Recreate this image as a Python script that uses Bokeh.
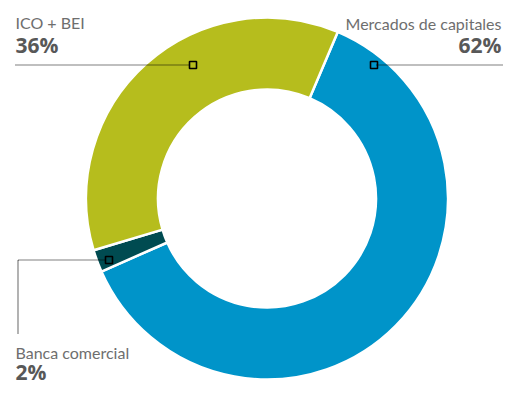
import math
from bokeh.plotting import figure
from bokeh.models import ColumnDataSource, Range1d
from bokeh.core.properties import value
from bokeh.embed import file_html
from bokeh.resources import INLINE

# ---- data ----
categories = ["Mercados de capitales", "Banca comercial", "ICO + BEI"]
shares = [62, 2, 36]
pct_labels = ["62%", "2%", "36%"]
colors = ["#0094C9", "#004B51", "#B6BD1D"]

W, H = 503, 385
p = figure(width=W, height=H, output_backend="svg", toolbar_location=None,
           x_range=Range1d(0, W), y_range=Range1d(0, H),
           min_border=0, outline_line_color=None)
p.axis.visible = False
p.grid.visible = False
p.background_fill_color = "white"
p.border_fill_color = "white"

# donut geometry (layout)
cx, cy = 266.5, 187.0
r_out, r_in = 181, 109
start_deg = 67.0  # math angle where first slice starts, going clockwise

starts, ends = [], []
acc = 0.0
for s in shares:
    a0 = start_deg - acc * 3.6
    acc += s
    a1 = start_deg - acc * 3.6
    starts.append(math.radians(a0))
    ends.append(math.radians(a1))

src = ColumnDataSource(dict(x=[cx] * 3, y=[cy] * 3, start=starts, end=ends,
                            color=colors, cat=categories))
p.annular_wedge(x="x", y="y", inner_radius=r_in, outer_radius=r_out,
                start_angle="start", end_angle="end", direction="clock",
                fill_color="color", line_color="white", line_width=2.5,
                source=src)

# leader lines
dot = dict(line_color="black", line_width=1.2, line_dash="1 1")
p.line([15, 189], [320.5, 320.5], **dot)
p.line([376, 503], [320.5, 320.5], **dot)
p.line([105, 17.5, 17.5], [125.5, 125.5, 52], **dot)
p.scatter([192.5, 373.5, 108.5], [320.5, 320.5, 125.5], marker="square", size=7,
          fill_color=None, line_color="black", line_width=1.6)

name_font = value("Lato")
pct_font = value("Open Sans")
name_col = "#6E6E6E"
pct_col = "#585858"
name_sz = "16px"
pct_sz = "21px"

# names
p.text([15], [363], text=[categories[2]], text_font=name_font, text_font_size=name_sz,
       text_color=name_col, text_align="left", text_baseline="alphabetic")
p.text([501], [362], text=[categories[0]], text_font=name_font, text_font_size=name_sz,
       text_color=name_col, text_align="right", text_baseline="alphabetic")
p.text([15], [33], text=[categories[1]], text_font=name_font, text_font_size=name_sz,
       text_color=name_col, text_align="left", text_baseline="alphabetic")
# percentages
p.text([15], [341], text=[pct_labels[2]], text_font=pct_font, text_font_size=pct_sz,
       text_font_style="bold", text_color=pct_col, text_align="left", text_baseline="alphabetic")
p.text([501], [341], text=[pct_labels[0]], text_font=pct_font, text_font_size=pct_sz,
       text_font_style="bold", text_color=pct_col, text_align="right", text_baseline="alphabetic")
p.text([15], [14], text=[pct_labels[1]], text_font=pct_font, text_font_size=pct_sz,
       text_font_style="bold", text_color=pct_col, text_align="left", text_baseline="alphabetic")

open("out.html", "w").write(file_html(p, INLINE))
